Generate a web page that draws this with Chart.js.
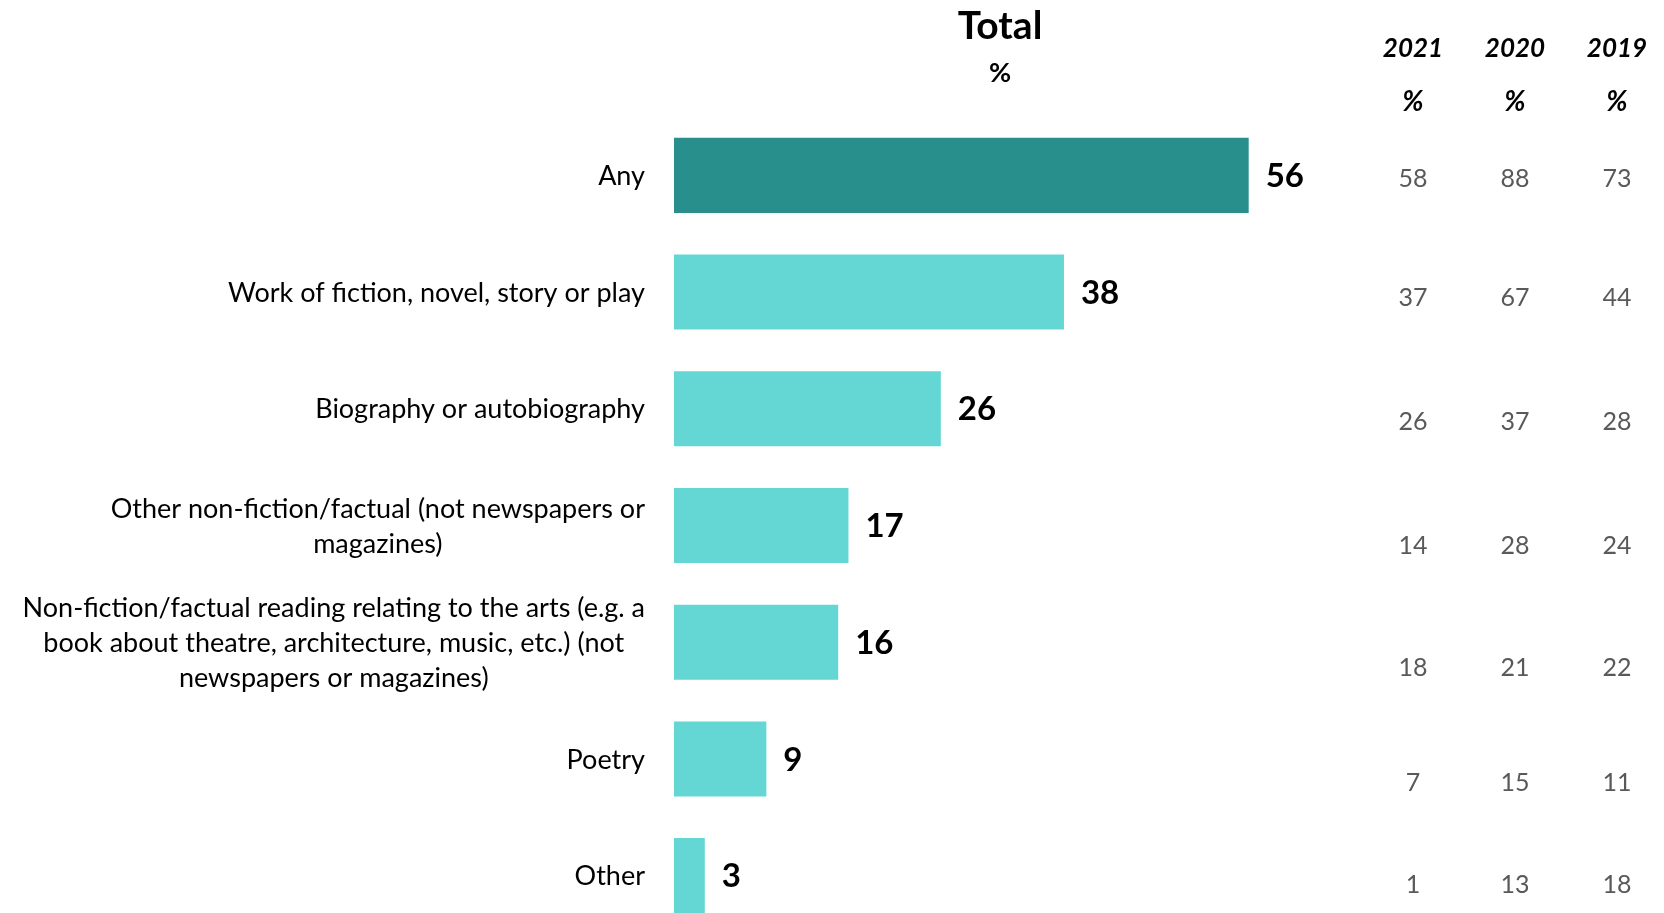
<!DOCTYPE html>
<html>
<head>
<meta charset="utf-8">
<script src="https://cdn.jsdelivr.net/npm/chart.js@4"></script>
<style>
  body { margin: 0; background: #fff; overflow: hidden; }
  #wrap { width: 1664px; height: 940px; }
</style>
</head>
<body>
<div id="wrap"><canvas id="reading"></canvas></div>
<script>
const categories = [
    ['Any'],
    ['Work of fiction, novel, story or play'],
    ['Biography or autobiography'],
    ['Other non-fiction/factual (not newspapers or', 'magazines)'],
    ['Non-fiction/factual reading relating to the arts (e.g. a', 'book about theatre, architecture, music, etc.) (not', 'newspapers or magazines)'],
    ['Poetry'],
    ['Other']
];
const totals = [56, 38, 26, 17, 16, 9, 3];
const years = ['2021', '2020', '2019'];
const values2021 = [58, 37, 26, 14, 18, 7, 1];
const values2020 = [88, 67, 37, 28, 21, 15, 13];
const values2019 = [73, 44, 28, 24, 22, 11, 18];

const FONT = 'Lato, "Open Sans", sans-serif';
// table rows sit a little lower than the bars further down
const rowShift = [4, 6, 13, 20, 26, 24, 9];
const colX = [1413, 1515, 1617];

const labelsPlugin = {
    id: 'labels',
    afterDatasetsDraw(chart) {
        const ctx = chart.ctx;
        const bars = chart.getDatasetMeta(0).data;
        ctx.save();
        ctx.textBaseline = 'middle';

        // category labels, each block right-aligned, lines centred in the block
        ctx.font = '27px ' + FONT;
        ctx.fillStyle = '#000';
        ctx.textAlign = 'center';
        const lineH = 35;
        bars.forEach((bar, i) => {
            const lines = categories[i];
            const w = Math.max(...lines.map(l => ctx.measureText(l).width));
            const cx = chart.chartArea.left - 29 - w / 2;
            const y0 = bar.y - (lines.length - 1) * lineH / 2;
            lines.forEach((l, j) => ctx.fillText(l, cx, y0 + j * lineH + 1));
        });

        // totals at the end of each bar
        ctx.font = 'bold 33px ' + FONT;
        ctx.textAlign = 'left';
        bars.forEach((bar, i) => ctx.fillText(totals[i], bar.x + 17, bar.y + 1));

        // title
        ctx.textAlign = 'center';
        ctx.font = 'bold 39px ' + FONT;
        ctx.fillText('Total', 1000, 26);
        ctx.font = 'bold 27px ' + FONT;
        ctx.fillText('%', 1000, 73);

        // earlier years
        const cols = [values2021, values2020, values2019];
        years.forEach((y, k) => {
            ctx.font = 'italic bold 26px ' + FONT;
            ctx.fillText(y, colX[k], 49);
            ctx.font = 'italic bold 28px ' + FONT;
            ctx.fillText('%', colX[k], 102);
        });
        ctx.font = '25px ' + FONT;
        ctx.fillStyle = '#595959';
        cols.forEach((vals, k) => {
            bars.forEach((bar, i) => ctx.fillText(vals[i], colX[k], bar.y + rowShift[i]));
        });
        ctx.restore();
    }
};

new Chart(document.getElementById('reading'), {
    type: 'bar',
    data: {
        labels: categories,
        datasets: [{
            data: totals,
            backgroundColor: totals.map((v, i) => i == 0 ? '#288f8c' : '#64d6d3'),
            borderWidth: 0,
            categoryPercentage: 1,
            barPercentage: 0.643
        }]
    },
    options: {
        indexAxis: 'y',
        responsive: true,
        maintainAspectRatio: false,
        animation: false,
        layout: { padding: { top: 117, bottom: 6, left: 674, right: 364 } },
        plugins: { legend: { display: false }, tooltip: { enabled: false } },
        scales: {
            x: { display: false, min: 0, max: 61 },
            y: { display: false }
        }
    },
    plugins: [labelsPlugin]
});
</script>
</body>
</html>
